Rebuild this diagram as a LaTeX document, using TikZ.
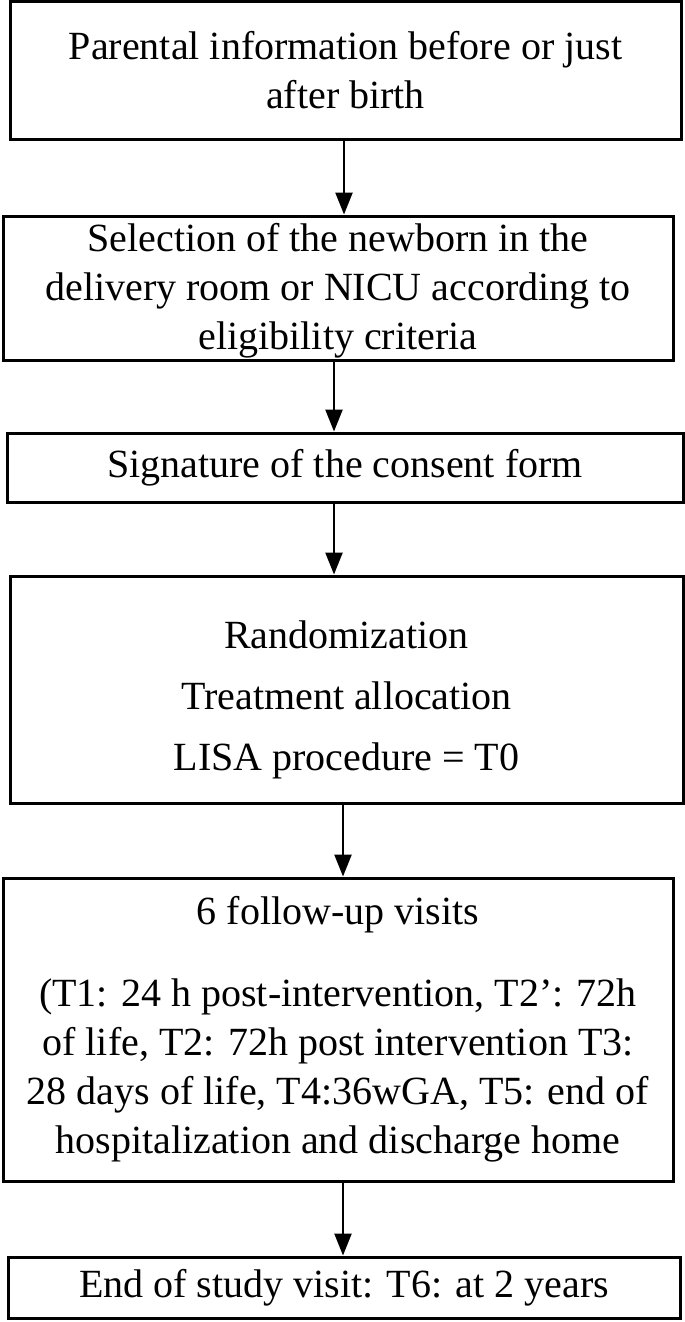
\documentclass[tikz,border=0pt]{standalone}
\usepackage{fontspec}
\setmainfont{Liberation Serif}
\usetikzlibrary{arrows.meta}
\begin{document}
\begin{tikzpicture}[x=1pt,y=-1pt,
  box/.style={draw,line width=3pt,inner sep=0pt,align=center,font=\fontsize{40}{49}\selectfont},
  arr/.style={-{Triangle[length=22pt,width=17pt]},line width=2.5pt}]
\useasboundingbox (0,0) rectangle (685,1322);
\node[box,minimum width=671pt,minimum height=137pt] (b1) at (345.5,70.5)
  {Parental information before or just\\after birth};
\node[box,minimum width=670pt,minimum height=144pt] (b2) at (338,288)
  {\rule{0pt}{34pt}Selection of the newborn in the\\delivery room or NICU according to\\eligibility criteria};
\node[box,minimum width=676pt,minimum height=69pt] (b3) at (345,467.5)
  {Signature of the consent form};
\node[box,minimum width=673pt,minimum height=227pt] (b4) at (346.5,689.5)
  {\rule{0pt}{48pt}Randomization\\[12pt]Treatment allocation\\[12pt]LISA procedure = T0};
\node[box,minimum width=670pt,minimum height=303pt] (b5) at (338,1029.5)
  {6 follow-up visits\\[33pt](T1: 24 h post-intervention, T2’: 72h\\of life, T2: 72h post intervention T3:\\28 days of life, T4:36wGA, T5: end of\\hospitalization and discharge home};
\node[box,minimum width=672pt,minimum height=61pt] (b6) at (344,1287.5)
  {End of study visit: T6: at 2 years};
\draw[arr] (b1.south -| 344,0) -- (b2.north -| 344,0);
\draw[arr] (b2.south -| 334,0) -- (b3.north -| 334,0);
\draw[arr] (b3.south -| 334,0) -- (b4.north -| 334,0);
\draw[arr] (b4.south -| 343,0) -- (b5.north -| 343,0);
\draw[arr] (b5.south -| 343,0) -- (b6.north -| 343,0);
\end{tikzpicture}
\end{document}
